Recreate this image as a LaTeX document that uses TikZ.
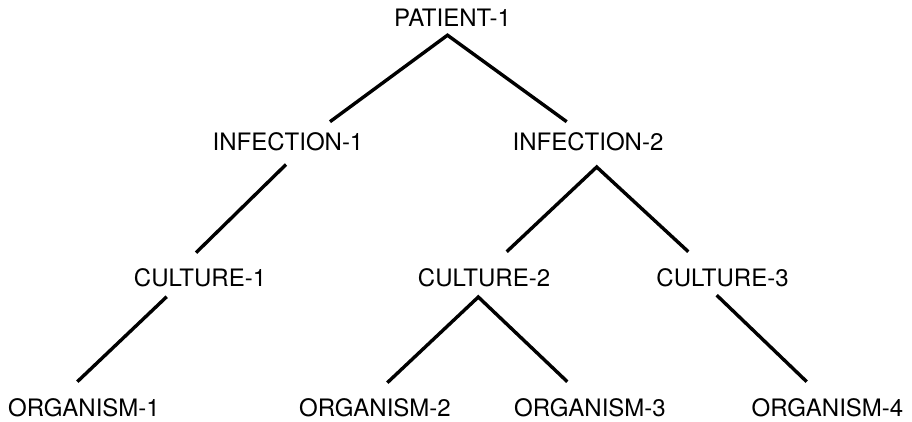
\documentclass[tikz,border=0pt]{standalone}
\usepackage{fontspec}
\setmainfont{TeX Gyre Heros}
\usetikzlibrary{calc}
\begin{document}
\begin{tikzpicture}
      [   x=1pt,y=-1pt,
          tnode/.style={anchor=base,inner sep=0pt,font=\fontsize{24}{24}\selectfont},
          edge/.style={line width=3.4pt,line join=miter},
      ]
          \useasboundingbox (0,0) rectangle (912,421);
          % tree levels
          \node[tnode] (p1) at (452.5,26.7) {PATIENT-1};
          \node[tnode] (i1) at (288,150) {INFECTION-1};
          \node[tnode] (i2) at (588,150) {INFECTION-2};
          \node[tnode] (c1) at (200,286.7) {CULTURE-1};
          \node[tnode] (c2) at (484,286.7) {CULTURE-2};
          \node[tnode] (c3) at (722.5,286.7) {CULTURE-3};
          \node[tnode] (o1) at (84,416.7) {ORGANISM-1};
          \node[tnode] (o2) at (375,416.7) {ORGANISM-2};
          \node[tnode] (o3) at (590,416.7) {ORGANISM-3};
          \node[tnode] (o4) at (827.5,416.7) {ORGANISM-4};
          % joints below parents
          \coordinate (p1-j) at ($(p1.base)+(-5,8.5)$);
          \coordinate (i1-j) at ($(i1.base)+(-2,14.5)$);
          \coordinate (i2-j) at ($(i2.base)+(8.7,17)$);
          \coordinate (c1-j) at ($(c1.base)+(-33.3,10)$);
          \coordinate (c2-j) at ($(c2.base)+(-5.7,10.3)$);
          \coordinate (c3-j) at ($(c3.base)+(-5.8,8.5)$);
          % ends above children
          \coordinate (i1-t) at ($(i1.base)+(42,-28.3)$);
          \coordinate (i2-t) at ($(i2.base)+(-21.3,-28.3)$);
          \coordinate (c1-t) at ($(c1.base)+(-4,-34)$);
          \coordinate (c2-t) at ($(c2.base)+(22.7,-35)$);
          \coordinate (c3-t) at ($(c3.base)+(-34.2,-35)$);
          \coordinate (o1-t) at ($(o1.base)+(-6.7,-35)$);
          \coordinate (o2-t) at ($(o2.base)+(12.3,-34)$);
          \coordinate (o3-t) at ($(o3.base)+(-22.7,-35)$);
          \coordinate (o4-t) at ($(o4.base)+(-20.8,-35)$);
          \draw[edge] (i1-t) -- (p1-j) -- (i2-t);
          \draw[edge] (i1-j) -- (c1-t);
          \draw[edge] (c2-t) -- (i2-j) -- (c3-t);
          \draw[edge] (c1-j) -- (o1-t);
          \draw[edge] (o2-t) -- (c2-j) -- (o3-t);
          \draw[edge] (c3-j) -- (o4-t);
    \end{tikzpicture}
\end{document}
